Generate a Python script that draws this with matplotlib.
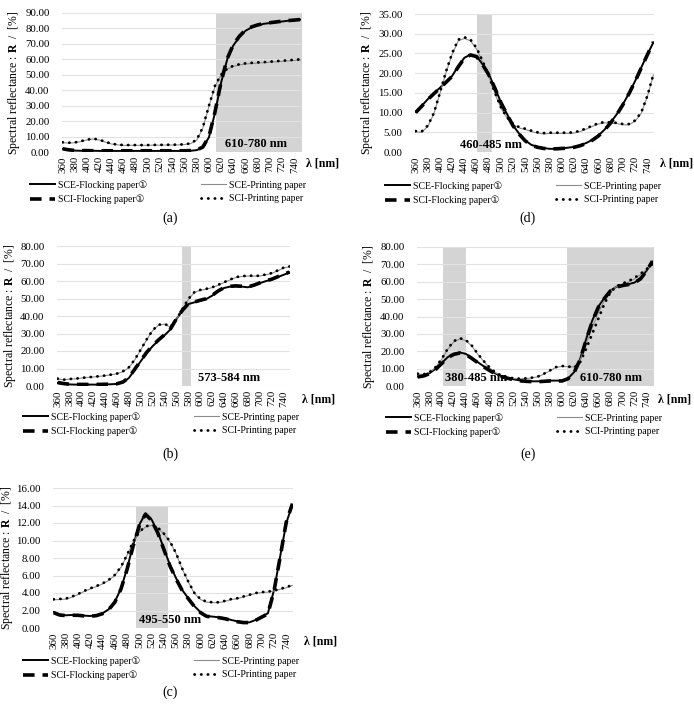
import matplotlib.pyplot as plt
from matplotlib.ticker import FormatStrFormatter

plt.rcParams['font.family'] = ['Liberation Serif', 'DejaVu Sans', 'Noto Sans CJK JP']
plt.rcParams['mathtext.fontset'] = 'custom'
plt.rcParams['mathtext.rm'] = 'Liberation Serif'
plt.rcParams['mathtext.bf'] = 'Liberation Serif:bold'

# wavelength categories [nm]
wl = [360, 370, 380, 390, 400, 410, 420, 430, 440, 450,
      460, 470, 480, 490, 500, 510, 520, 530, 540, 550,
      560, 570, 580, 590, 600, 610, 620, 630, 640, 650,
      660, 670, 680, 690, 700, 710, 720, 730, 740, 750]
xtick_labels = [360, 380, 400, 420, 440, 460, 480, 500, 520, 540,
                560, 580, 600, 620, 640, 660, 680, 700, 720, 740]

series_names = ['SCE-Flocking paper①', 'SCI-Flocking paper①',
                'SCE-Printing paper', 'SCI-Printing paper']

# (a)
a_sce_flock = [2.0, 1.3, 0.9, 0.8, 0.8, 0.8, 0.7, 0.7, 0.7, 0.7,
               0.7, 0.7, 0.7, 0.7, 0.7, 0.7, 0.7, 0.7, 0.7, 0.7,
               0.7, 0.8, 1.2, 3.0, 9.5, 25.5, 45.0, 60.0, 69.0, 74.5,
               78.5, 80.7, 82.0, 83.0, 83.5, 84.0, 84.5, 85.0, 85.3, 85.7]
a_sci_flock = [2.1, 1.4, 1.0, 0.9, 0.9, 0.8, 0.8, 0.8, 0.8, 0.8,
               0.8, 0.8, 0.8, 0.8, 0.8, 0.8, 0.8, 0.8, 0.8, 0.8,
               0.8, 0.9, 1.3, 3.2, 10.0, 26.0, 45.5, 60.5, 69.5, 75.0,
               79.0, 81.0, 82.3, 83.2, 83.7, 84.2, 84.7, 85.1, 85.4, 85.8]
a_sce_print = [6.0, 5.8, 6.0, 6.8, 7.8, 8.4, 7.8, 6.4, 5.2, 4.6,
               4.3, 4.3, 4.3, 4.3, 4.3, 4.4, 4.4, 4.5, 4.5, 4.6,
               4.8, 5.4, 7.7, 15.5, 29.5, 42.5, 49.6, 53.6, 55.4, 56.4,
               57.0, 57.3, 57.6, 57.8, 58.1, 58.4, 58.7, 59.0, 59.3, 59.6]
a_sci_print = [6.3, 6.0, 6.2, 7.0, 8.0, 8.6, 8.0, 6.6, 5.4, 4.8,
               4.5, 4.5, 4.5, 4.5, 4.5, 4.6, 4.6, 4.7, 4.7, 4.8,
               5.0, 5.6, 8.0, 16.0, 30.0, 43.0, 50.0, 54.0, 55.8, 56.8,
               57.4, 57.7, 58.0, 58.2, 58.5, 58.8, 59.1, 59.4, 59.7, 60.0]

# (d)
d_sce_flock = [10.2, 11.7, 13.4, 14.9, 16.3, 17.8, 19.3, 21.8, 23.9, 24.7,
               24.3, 22.2, 19.7, 16.3, 12.6, 9.6, 6.7, 4.6, 2.9, 1.8,
               1.3, 1.0, 0.8, 0.8, 0.9, 1.1, 1.3, 1.7, 2.3, 3.1,
               4.2, 5.7, 7.5, 9.6, 12.1, 14.9, 18.0, 21.4, 24.7, 27.8]
d_sci_flock = [10.0, 11.6, 13.3, 14.8, 16.2, 17.7, 19.2, 21.6, 23.8, 24.6,
               24.2, 22.1, 19.6, 16.2, 12.5, 9.5, 6.6, 4.5, 2.8, 1.7,
               1.2, 0.9, 0.8, 0.8, 0.9, 1.0, 1.2, 1.6, 2.2, 3.0,
               4.1, 5.6, 7.4, 9.5, 12.0, 14.8, 17.9, 21.3, 24.6, 27.9]
d_sce_print = [5.1, 5.0, 6.5, 9.7, 14.9, 20.2, 24.8, 28.2, 28.8, 28.2,
               26.1, 22.8, 19.1, 14.9, 11.1, 8.6, 6.9, 6.1, 5.7, 5.2,
               4.8, 4.6, 4.7, 4.7, 4.7, 4.7, 4.8, 5.2, 5.8, 6.5,
               7.1, 7.4, 7.3, 7.2, 6.9, 6.9, 7.8, 9.8, 14.0, 19.5]
d_sci_print = [5.3, 5.2, 6.7, 9.9, 15.1, 20.5, 25.1, 28.5, 29.1, 28.5,
               26.4, 23.0, 19.3, 15.1, 11.3, 8.8, 7.1, 6.3, 5.9, 5.4,
               5.0, 4.8, 4.9, 4.9, 4.9, 4.9, 5.0, 5.4, 6.0, 6.7,
               7.3, 7.6, 7.5, 7.4, 7.1, 7.1, 8.0, 10.0, 14.2, 19.7]

# (b)
b_sce_flock = [1.7, 1.2, 0.9, 0.8, 0.8, 0.8, 0.8, 0.8, 0.9, 1.0,
               1.2, 2.1, 4.6, 9.4, 14.2, 19.0, 22.8, 26.1, 29.0, 32.4,
               38.2, 43.0, 46.8, 47.8, 48.8, 49.7, 51.6, 54.1, 56.0, 56.8,
               57.0, 56.8, 56.4, 57.4, 58.7, 59.9, 60.8, 62.2, 63.5, 64.9]
b_sci_flock = [2.0, 1.4, 1.0, 0.9, 0.9, 0.9, 0.9, 0.9, 1.0, 1.1,
               1.3, 2.3, 4.9, 9.7, 14.5, 19.3, 23.1, 26.4, 29.3, 32.7,
               38.5, 43.3, 47.0, 48.0, 49.0, 49.9, 51.8, 54.3, 56.2, 57.0,
               57.2, 57.0, 56.6, 57.6, 58.9, 60.1, 61.0, 62.4, 63.7, 65.1]
b_sce_print = [4.0, 3.5, 3.9, 4.1, 4.5, 4.9, 5.1, 5.5, 5.9, 6.4,
               7.0, 8.2, 10.5, 15.0, 20.7, 26.5, 31.7, 34.8, 35.3, 33.6,
               38.0, 43.8, 49.5, 53.4, 54.7, 55.3, 56.2, 57.6, 59.1, 60.6,
               62.0, 62.6, 62.8, 62.8, 62.8, 63.5, 64.3, 65.8, 67.4, 68.1]
b_sci_print = [4.2, 3.6, 4.0, 4.2, 4.6, 5.0, 5.2, 5.6, 6.0, 6.5,
               7.1, 8.4, 10.7, 15.2, 20.9, 26.7, 31.9, 35.0, 35.5, 33.8,
               38.2, 44.0, 49.7, 53.6, 54.9, 55.5, 56.4, 57.8, 59.3, 60.8,
               62.2, 62.8, 63.0, 63.0, 63.0, 63.7, 64.5, 66.0, 67.6, 68.3]

# (e)
e_sce_flock = [5.5, 6.1, 7.4, 9.9, 13.2, 16.6, 18.5, 19.3, 18.5, 16.2,
               13.7, 11.3, 9.0, 7.1, 5.5, 4.6, 3.8, 3.2, 2.9, 2.7,
               2.7, 2.9, 3.1, 3.1, 3.1, 4.4, 8.0, 15.6, 27.1, 37.6,
               45.6, 50.6, 54.8, 57.1, 58.0, 58.6, 59.5, 61.8, 66.2, 71.6]
e_sci_flock = [5.2, 5.8, 7.1, 9.6, 12.9, 16.3, 18.2, 19.0, 18.2, 15.9,
               13.4, 11.0, 8.8, 6.9, 5.3, 4.4, 3.6, 3.0, 2.7, 2.5,
               2.5, 2.7, 2.9, 2.9, 2.9, 4.2, 7.8, 15.2, 26.5, 37.0,
               45.2, 50.3, 54.6, 56.9, 57.8, 58.4, 59.3, 61.6, 66.0, 71.8]
e_sce_print = [6.9, 6.5, 7.8, 10.7, 15.3, 21.0, 25.4, 27.1, 26.1, 23.0,
               18.3, 14.1, 10.3, 7.5, 5.8, 4.9, 4.3, 4.1, 4.3, 4.7,
               5.3, 6.9, 8.8, 10.7, 11.3, 11.1, 11.0, 15.0, 24.0, 33.5,
               42.0, 49.0, 54.5, 57.2, 58.6, 59.8, 61.6, 64.0, 67.0, 70.5]
e_sci_print = [7.1, 6.7, 8.0, 10.9, 15.6, 21.4, 25.8, 27.5, 26.5, 23.3,
               18.5, 14.3, 10.5, 7.6, 5.9, 5.0, 4.4, 4.2, 4.4, 4.8,
               5.5, 7.1, 9.0, 10.9, 11.5, 11.3, 10.5, 13.7, 21.4, 30.0,
               38.5, 47.1, 53.8, 57.3, 59.0, 60.3, 62.2, 64.5, 67.2, 70.0]

# (c)
c_sce_flock = [1.83, 1.53, 1.45, 1.49, 1.49, 1.41, 1.37, 1.45, 1.68, 2.14,
               3.0, 4.5, 6.8, 9.5, 11.8, 13.1, 12.4, 11.0, 9.1, 7.2,
               5.7, 4.35, 3.4, 2.5, 1.8, 1.37, 1.3, 1.22, 1.1, 0.92,
               0.76, 0.65, 0.65, 0.92, 1.3, 1.68, 4.35, 8.17, 12.0, 14.1]
c_sci_flock = [1.75, 1.48, 1.42, 1.46, 1.45, 1.38, 1.34, 1.42, 1.64, 2.10,
               2.95, 4.45, 6.7, 9.4, 11.7, 13.0, 12.3, 10.9, 9.0, 7.1,
               5.6, 4.3, 3.35, 2.45, 1.75, 1.33, 1.26, 1.18, 1.06, 0.88,
               0.72, 0.62, 0.62, 0.88, 1.25, 1.62, 4.25, 8.1, 12.1, 14.2]
c_sce_print = [3.22, 3.26, 3.30, 3.53, 3.83, 4.18, 4.48, 4.74, 5.04, 5.44,
               6.0, 6.93, 8.3, 9.84, 10.94, 11.54, 11.74, 11.44, 10.74, 9.84,
               8.5, 6.75, 5.25, 3.95, 3.25, 2.95, 2.9, 2.9, 3.05, 3.25,
               3.35, 3.55, 3.75, 3.95, 4.05, 4.1, 4.22, 4.42, 4.6, 4.86]
c_sci_print = [3.28, 3.32, 3.36, 3.59, 3.89, 4.24, 4.54, 4.8, 5.1, 5.5,
               6.07, 7.0, 8.36, 9.9, 11.0, 11.6, 11.8, 11.5, 10.8, 9.9,
               8.55, 6.8, 5.3, 4.0, 3.3, 3.0, 2.94, 2.94, 3.1, 3.3,
               3.4, 3.6, 3.8, 4.0, 4.1, 4.16, 4.27, 4.47, 4.66, 4.92]

# shaded bands: (from nm, to nm, top of band)
a_bands = [(611, 760, 90)]
d_bands = [(460, 485, 35)]
b_bands = [(570, 585, 80)]
e_bands = [(402, 440, 80), (608, 760, 80)]
c_bands = [(494, 547, 14)]

W, H = 694, 706
fig = plt.figure(figsize=(W / 100, H / 100), dpi=100)


def fx(x):
    return x / W


def fy(y):
    return 1 - y / H


panels = [
    # caption, axes box (left, top, w, h px), ymax, ystep, data, bands, notes,
    # ylabel right edge px, lambda-label px, legend px, caption px
    ('(a)', (62, 13, 239, 139), 90, 10, (a_sce_flock, a_sci_flock, a_sce_print, a_sci_print),
     a_bands, [('610-780 nm', 678, 5.4)], 22, (306, 164), (30, 180), (170, 218)),
    ('(d)', (415, 14, 239, 138), 35, 5, (d_sce_flock, d_sci_flock, d_sce_print, d_sci_print),
     d_bands, [('460-485 nm', 484, 1.9)], 375, (660, 164), (385, 181), (528, 218)),
    ('(b)', (57, 246, 233, 140), 80, 10, (b_sce_flock, b_sci_flock, b_sce_print, b_sci_print),
     b_bands, [('573-584 nm', 648, 4.6)], 18, (302, 399), (23, 412), (170, 454)),
    ('(e)', (417, 247, 236, 139), 80, 10, (e_sce_flock, e_sci_flock, e_sce_print, e_sci_print),
     e_bands, [('380-485 nm', 457, 4.8), ('610-780 nm', 681, 4.8)], 377, (658, 399), (386, 413), (528, 454)),
    ('(c)', (53, 488, 240, 140), 16, 2, (c_sce_flock, c_sci_flock, c_sce_print, c_sci_print),
     c_bands, [('495-550 nm', 551, 0.92)], 15, (304, 641), (23, 656), (170, 692)),
]

for cap, box, ymax, ystep, data, bands, notes, ylab_x, lam_pos, leg_pos, cap_pos in panels:
    left, top, w, h = box
    ax = fig.add_axes([fx(left), fy(top + h), w / W, h / H])
    sce_flock, sci_flock, sce_print, sci_print = data

    for lo, hi, btop in bands:
        ax.fill_between([lo, hi], 0, btop, color='#d4d4d4', lw=0, zorder=0.2)

    l1, = ax.plot(wl, sce_flock, color='black', lw=1.4, zorder=3)
    l3, = ax.plot(wl, sce_print, color='#8c8c8c', lw=0.8, zorder=3)
    l2, = ax.plot(wl, sci_flock, color='black', lw=2.6, dashes=(3.2, 2.2), zorder=4)
    l4, = ax.plot(wl, sci_print, color='black', lw=2.0, linestyle=(0, (0.1, 2.3)),
                  dash_capstyle='round', zorder=5)

    for txt, x, y in notes:
        ax.text(x, y, txt, ha='center', va='center', fontsize=9, fontweight='bold', zorder=6)

    ax.set_xlim(359, 751)
    ax.set_ylim(0, ymax)
    ax.set_yticks(list(range(0, ymax + 1, ystep)))
    ax.yaxis.set_major_formatter(FormatStrFormatter('%.2f'))
    ax.set_xticks(xtick_labels)
    ax.tick_params(axis='x', rotation=90, length=0, labelsize=7.8, pad=3)
    ax.tick_params(axis='y', length=0, labelsize=7.8, pad=9)
    ax.grid(axis='y', color='#e2e2e2', lw=0.8)
    ax.set_axisbelow(True)
    for s in ax.spines.values():
        s.set_visible(False)

    ax.set_ylabel('Spectral reflectance : $\\mathbf{R}$  /  [%]', fontsize=8.5)
    ax.yaxis.set_label_coords((ylab_x - left) / w, 0.5)

    fig.text(fx(lam_pos[0]), fy(lam_pos[1]), 'λ [nm]', fontsize=8.5, fontweight='bold',
             ha='left', va='center')

    fig.legend([l1, l2, l3, l4], series_names, loc='upper left',
               bbox_to_anchor=(fx(leg_pos[0]), fy(leg_pos[1])), ncol=2, frameon=False,
               fontsize=7, handlelength=2.6, handletextpad=0.3, columnspacing=5.5,
               labelspacing=0.5, borderpad=0, borderaxespad=0)

    fig.text(fx(cap_pos[0]), fy(cap_pos[1]), cap, fontsize=10, ha='center', va='center')

fig.savefig('out.png', dpi=100)
